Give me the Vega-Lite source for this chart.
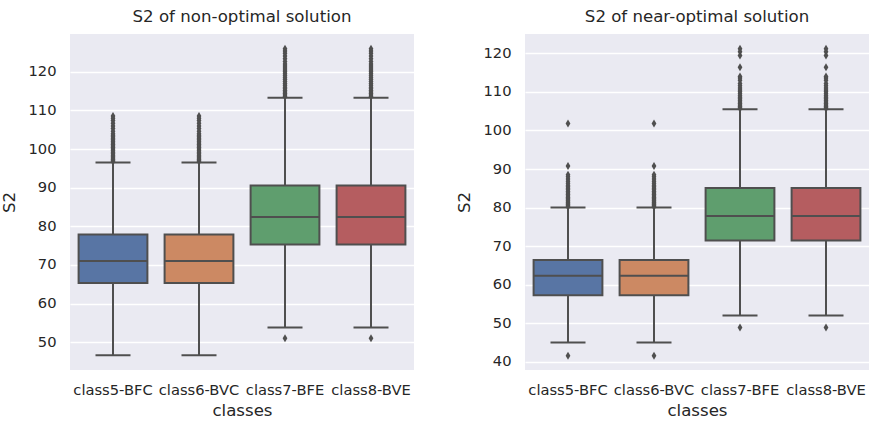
{
  "$schema": "https://vega.github.io/schema/vega-lite/v6.json",
  "background": "white",
  "padding": {"left": 1, "top": 9, "right": 2, "bottom": 0},
  "spacing": 42,
  "datasets": {
    "statsL": [
      {"cls": "class5-BFC", "lo": 46.6, "q1": 65.3, "med": 71.0, "q3": 77.9, "hi": 96.5},
      {"cls": "class6-BVC", "lo": 46.6, "q1": 65.3, "med": 71.0, "q3": 77.9, "hi": 96.5},
      {"cls": "class7-BFE", "lo": 53.8, "q1": 75.3, "med": 82.4, "q3": 90.6, "hi": 113.3},
      {"cls": "class8-BVE", "lo": 53.8, "q1": 75.3, "med": 82.4, "q3": 90.6, "hi": 113.3}
    ],
    "outL": [
      {"cls": "class5-BFC", "v": 96.8}, {"cls": "class5-BFC", "v": 97.1}, {"cls": "class5-BFC", "v": 97.4}, {"cls": "class5-BFC", "v": 97.7}, {"cls": "class5-BFC", "v": 98.0}, {"cls": "class5-BFC", "v": 98.4}, {"cls": "class5-BFC", "v": 98.8}, {"cls": "class5-BFC", "v": 99.2}, {"cls": "class5-BFC", "v": 99.6}, {"cls": "class5-BFC", "v": 100.0}, {"cls": "class5-BFC", "v": 100.4}, {"cls": "class5-BFC", "v": 100.8}, {"cls": "class5-BFC", "v": 101.2}, {"cls": "class5-BFC", "v": 101.6}, {"cls": "class5-BFC", "v": 102.0}, {"cls": "class5-BFC", "v": 102.4}, {"cls": "class5-BFC", "v": 102.8}, {"cls": "class5-BFC", "v": 103.2}, {"cls": "class5-BFC", "v": 103.6}, {"cls": "class5-BFC", "v": 104.0}, {"cls": "class5-BFC", "v": 104.6}, {"cls": "class5-BFC", "v": 105.3}, {"cls": "class5-BFC", "v": 106.0}, {"cls": "class5-BFC", "v": 106.7}, {"cls": "class5-BFC", "v": 107.4}, {"cls": "class5-BFC", "v": 108.0}, {"cls": "class5-BFC", "v": 108.6},
      {"cls": "class6-BVC", "v": 96.8}, {"cls": "class6-BVC", "v": 97.1}, {"cls": "class6-BVC", "v": 97.4}, {"cls": "class6-BVC", "v": 97.7}, {"cls": "class6-BVC", "v": 98.0}, {"cls": "class6-BVC", "v": 98.4}, {"cls": "class6-BVC", "v": 98.8}, {"cls": "class6-BVC", "v": 99.2}, {"cls": "class6-BVC", "v": 99.6}, {"cls": "class6-BVC", "v": 100.0}, {"cls": "class6-BVC", "v": 100.4}, {"cls": "class6-BVC", "v": 100.8}, {"cls": "class6-BVC", "v": 101.2}, {"cls": "class6-BVC", "v": 101.6}, {"cls": "class6-BVC", "v": 102.0}, {"cls": "class6-BVC", "v": 102.4}, {"cls": "class6-BVC", "v": 102.8}, {"cls": "class6-BVC", "v": 103.2}, {"cls": "class6-BVC", "v": 103.6}, {"cls": "class6-BVC", "v": 104.0}, {"cls": "class6-BVC", "v": 104.6}, {"cls": "class6-BVC", "v": 105.3}, {"cls": "class6-BVC", "v": 106.0}, {"cls": "class6-BVC", "v": 106.7}, {"cls": "class6-BVC", "v": 107.4}, {"cls": "class6-BVC", "v": 108.0}, {"cls": "class6-BVC", "v": 108.6},
      {"cls": "class7-BFE", "v": 51.0}, {"cls": "class7-BFE", "v": 113.6}, {"cls": "class7-BFE", "v": 114.0}, {"cls": "class7-BFE", "v": 114.4}, {"cls": "class7-BFE", "v": 114.8}, {"cls": "class7-BFE", "v": 115.2}, {"cls": "class7-BFE", "v": 115.6}, {"cls": "class7-BFE", "v": 116.0}, {"cls": "class7-BFE", "v": 116.5}, {"cls": "class7-BFE", "v": 117.0}, {"cls": "class7-BFE", "v": 117.5}, {"cls": "class7-BFE", "v": 118.0}, {"cls": "class7-BFE", "v": 118.5}, {"cls": "class7-BFE", "v": 119.0}, {"cls": "class7-BFE", "v": 119.5}, {"cls": "class7-BFE", "v": 120.0}, {"cls": "class7-BFE", "v": 120.5}, {"cls": "class7-BFE", "v": 121.0}, {"cls": "class7-BFE", "v": 121.5}, {"cls": "class7-BFE", "v": 122.0}, {"cls": "class7-BFE", "v": 122.7}, {"cls": "class7-BFE", "v": 123.4}, {"cls": "class7-BFE", "v": 124.1}, {"cls": "class7-BFE", "v": 124.8}, {"cls": "class7-BFE", "v": 125.4}, {"cls": "class7-BFE", "v": 126.0},
      {"cls": "class8-BVE", "v": 51.0}, {"cls": "class8-BVE", "v": 113.6}, {"cls": "class8-BVE", "v": 114.0}, {"cls": "class8-BVE", "v": 114.4}, {"cls": "class8-BVE", "v": 114.8}, {"cls": "class8-BVE", "v": 115.2}, {"cls": "class8-BVE", "v": 115.6}, {"cls": "class8-BVE", "v": 116.0}, {"cls": "class8-BVE", "v": 116.5}, {"cls": "class8-BVE", "v": 117.0}, {"cls": "class8-BVE", "v": 117.5}, {"cls": "class8-BVE", "v": 118.0}, {"cls": "class8-BVE", "v": 118.5}, {"cls": "class8-BVE", "v": 119.0}, {"cls": "class8-BVE", "v": 119.5}, {"cls": "class8-BVE", "v": 120.0}, {"cls": "class8-BVE", "v": 120.5}, {"cls": "class8-BVE", "v": 121.0}, {"cls": "class8-BVE", "v": 121.5}, {"cls": "class8-BVE", "v": 122.0}, {"cls": "class8-BVE", "v": 122.7}, {"cls": "class8-BVE", "v": 123.4}, {"cls": "class8-BVE", "v": 124.1}, {"cls": "class8-BVE", "v": 124.8}, {"cls": "class8-BVE", "v": 125.4}, {"cls": "class8-BVE", "v": 126.0}
    ],
    "statsR": [
      {"cls": "class5-BFC", "lo": 45.0, "q1": 57.3, "med": 62.3, "q3": 66.4, "hi": 80.0},
      {"cls": "class6-BVC", "lo": 45.0, "q1": 57.3, "med": 62.3, "q3": 66.4, "hi": 80.0},
      {"cls": "class7-BFE", "lo": 52.0, "q1": 71.5, "med": 77.8, "q3": 85.1, "hi": 105.5},
      {"cls": "class8-BVE", "lo": 52.0, "q1": 71.5, "med": 77.8, "q3": 85.1, "hi": 105.5}
    ],
    "outR": [
      {"cls": "class5-BFC", "v": 41.6}, {"cls": "class5-BFC", "v": 80.2}, {"cls": "class5-BFC", "v": 80.5}, {"cls": "class5-BFC", "v": 80.8}, {"cls": "class5-BFC", "v": 81.1}, {"cls": "class5-BFC", "v": 81.4}, {"cls": "class5-BFC", "v": 81.7}, {"cls": "class5-BFC", "v": 82.0}, {"cls": "class5-BFC", "v": 82.3}, {"cls": "class5-BFC", "v": 82.6}, {"cls": "class5-BFC", "v": 83.0}, {"cls": "class5-BFC", "v": 83.4}, {"cls": "class5-BFC", "v": 83.8}, {"cls": "class5-BFC", "v": 84.2}, {"cls": "class5-BFC", "v": 84.6}, {"cls": "class5-BFC", "v": 85.0}, {"cls": "class5-BFC", "v": 85.4}, {"cls": "class5-BFC", "v": 85.8}, {"cls": "class5-BFC", "v": 86.3}, {"cls": "class5-BFC", "v": 86.8}, {"cls": "class5-BFC", "v": 87.4}, {"cls": "class5-BFC", "v": 88.0}, {"cls": "class5-BFC", "v": 88.5}, {"cls": "class5-BFC", "v": 90.8}, {"cls": "class5-BFC", "v": 101.8},
      {"cls": "class6-BVC", "v": 41.6}, {"cls": "class6-BVC", "v": 80.2}, {"cls": "class6-BVC", "v": 80.5}, {"cls": "class6-BVC", "v": 80.8}, {"cls": "class6-BVC", "v": 81.1}, {"cls": "class6-BVC", "v": 81.4}, {"cls": "class6-BVC", "v": 81.7}, {"cls": "class6-BVC", "v": 82.0}, {"cls": "class6-BVC", "v": 82.3}, {"cls": "class6-BVC", "v": 82.6}, {"cls": "class6-BVC", "v": 83.0}, {"cls": "class6-BVC", "v": 83.4}, {"cls": "class6-BVC", "v": 83.8}, {"cls": "class6-BVC", "v": 84.2}, {"cls": "class6-BVC", "v": 84.6}, {"cls": "class6-BVC", "v": 85.0}, {"cls": "class6-BVC", "v": 85.4}, {"cls": "class6-BVC", "v": 85.8}, {"cls": "class6-BVC", "v": 86.3}, {"cls": "class6-BVC", "v": 86.8}, {"cls": "class6-BVC", "v": 87.4}, {"cls": "class6-BVC", "v": 88.0}, {"cls": "class6-BVC", "v": 88.5}, {"cls": "class6-BVC", "v": 90.8}, {"cls": "class6-BVC", "v": 101.8},
      {"cls": "class7-BFE", "v": 48.9}, {"cls": "class7-BFE", "v": 105.7}, {"cls": "class7-BFE", "v": 106.0}, {"cls": "class7-BFE", "v": 106.3}, {"cls": "class7-BFE", "v": 106.6}, {"cls": "class7-BFE", "v": 107.0}, {"cls": "class7-BFE", "v": 107.4}, {"cls": "class7-BFE", "v": 107.8}, {"cls": "class7-BFE", "v": 108.2}, {"cls": "class7-BFE", "v": 108.6}, {"cls": "class7-BFE", "v": 109.0}, {"cls": "class7-BFE", "v": 109.5}, {"cls": "class7-BFE", "v": 110.0}, {"cls": "class7-BFE", "v": 110.5}, {"cls": "class7-BFE", "v": 111.0}, {"cls": "class7-BFE", "v": 111.6}, {"cls": "class7-BFE", "v": 112.2}, {"cls": "class7-BFE", "v": 113.0}, {"cls": "class7-BFE", "v": 113.6}, {"cls": "class7-BFE", "v": 114.0}, {"cls": "class7-BFE", "v": 116.4}, {"cls": "class7-BFE", "v": 119.4}, {"cls": "class7-BFE", "v": 120.4}, {"cls": "class7-BFE", "v": 121.2},
      {"cls": "class8-BVE", "v": 48.9}, {"cls": "class8-BVE", "v": 105.7}, {"cls": "class8-BVE", "v": 106.0}, {"cls": "class8-BVE", "v": 106.3}, {"cls": "class8-BVE", "v": 106.6}, {"cls": "class8-BVE", "v": 107.0}, {"cls": "class8-BVE", "v": 107.4}, {"cls": "class8-BVE", "v": 107.8}, {"cls": "class8-BVE", "v": 108.2}, {"cls": "class8-BVE", "v": 108.6}, {"cls": "class8-BVE", "v": 109.0}, {"cls": "class8-BVE", "v": 109.5}, {"cls": "class8-BVE", "v": 110.0}, {"cls": "class8-BVE", "v": 110.5}, {"cls": "class8-BVE", "v": 111.0}, {"cls": "class8-BVE", "v": 111.6}, {"cls": "class8-BVE", "v": 112.2}, {"cls": "class8-BVE", "v": 113.0}, {"cls": "class8-BVE", "v": 113.6}, {"cls": "class8-BVE", "v": 114.0}, {"cls": "class8-BVE", "v": 116.4}, {"cls": "class8-BVE", "v": 119.4}, {"cls": "class8-BVE", "v": 120.4}, {"cls": "class8-BVE", "v": 121.2}
    ]
  },
  "hconcat": [
    {
      "title": "S2 of non-optimal solution",
      "width": 344,
      "height": 336,
      "encoding": {
        "x": {"field": "cls", "type": "nominal", "sort": null, "title": "classes", "scale": {"paddingInner": 0.2, "paddingOuter": 0.1}, "axis": {"labelAngle": 0, "grid": false}}
      },
      "layer": [
        {"data": {"name": "statsL"}, "mark": {"type": "rule", "color": "#4f4f4f", "strokeWidth": 2},
         "encoding": {"y": {"field": "lo", "type": "quantitative", "title": "S2", "scale": {"domain": [42.8, 129.8], "nice": false, "zero": false}, "axis": {"values": [50, 60, 70, 80, 90, 100, 110, 120]}}, "y2": {"field": "hi"}}},
        {"data": {"name": "statsL"}, "mark": {"type": "bar", "stroke": "#4f4f4f", "strokeWidth": 2, "opacity": 1},
         "encoding": {"y": {"field": "q1", "type": "quantitative"}, "y2": {"field": "q3"}, "color": {"field": "cls", "type": "nominal", "sort": null, "scale": {"range": ["#5875a4", "#cc8963", "#5f9e6e", "#b55d60"]}, "legend": null}}},
        {"data": {"name": "statsL"}, "mark": {"type": "tick", "color": "#4f4f4f", "thickness": 2, "size": 69, "opacity": 1},
         "encoding": {"y": {"field": "med", "type": "quantitative"}}},
        {"data": {"name": "statsL"}, "mark": {"type": "tick", "color": "#4f4f4f", "thickness": 2, "size": 35, "opacity": 1},
         "encoding": {"y": {"field": "lo", "type": "quantitative"}}},
        {"data": {"name": "statsL"}, "mark": {"type": "tick", "color": "#4f4f4f", "thickness": 2, "size": 35, "opacity": 1},
         "encoding": {"y": {"field": "hi", "type": "quantitative"}}},
        {"data": {"name": "outL"}, "mark": {"type": "point", "shape": "M0,-1L0.6,0L0,1L-0.6,0Z", "filled": true, "color": "#4f4f4f", "size": 64, "opacity": 1},
         "encoding": {"y": {"field": "v", "type": "quantitative"}}}
      ]
    },
    {
      "title": "S2 of near-optimal solution",
      "width": 344,
      "height": 336,
      "encoding": {
        "x": {"field": "cls", "type": "nominal", "sort": null, "title": "classes", "scale": {"paddingInner": 0.2, "paddingOuter": 0.1}, "axis": {"labelAngle": 0, "grid": false}}
      },
      "layer": [
        {"data": {"name": "statsR"}, "mark": {"type": "rule", "color": "#4f4f4f", "strokeWidth": 2},
         "encoding": {"y": {"field": "lo", "type": "quantitative", "title": "S2", "scale": {"domain": [37.9, 125.0], "nice": false, "zero": false}, "axis": {"values": [40, 50, 60, 70, 80, 90, 100, 110, 120]}}, "y2": {"field": "hi"}}},
        {"data": {"name": "statsR"}, "mark": {"type": "bar", "stroke": "#4f4f4f", "strokeWidth": 2, "opacity": 1},
         "encoding": {"y": {"field": "q1", "type": "quantitative"}, "y2": {"field": "q3"}, "color": {"field": "cls", "type": "nominal", "sort": null, "legend": null}}},
        {"data": {"name": "statsR"}, "mark": {"type": "tick", "color": "#4f4f4f", "thickness": 2, "size": 69, "opacity": 1},
         "encoding": {"y": {"field": "med", "type": "quantitative"}}},
        {"data": {"name": "statsR"}, "mark": {"type": "tick", "color": "#4f4f4f", "thickness": 2, "size": 35, "opacity": 1},
         "encoding": {"y": {"field": "lo", "type": "quantitative"}}},
        {"data": {"name": "statsR"}, "mark": {"type": "tick", "color": "#4f4f4f", "thickness": 2, "size": 35, "opacity": 1},
         "encoding": {"y": {"field": "hi", "type": "quantitative"}}},
        {"data": {"name": "outR"}, "mark": {"type": "point", "shape": "M0,-1L0.6,0L0,1L-0.6,0Z", "filled": true, "color": "#4f4f4f", "size": 64, "opacity": 1},
         "encoding": {"y": {"field": "v", "type": "quantitative"}}}
      ]
    }
  ],
  "config": {
    "view": {"fill": "#eaeaf2", "stroke": null},
    "font": "DejaVu Sans",
    "axis": {
      "domain": false, "ticks": false, "gridColor": "white", "gridWidth": 1.3, "gridOpacity": 1,
      "labelFont": "DejaVu Sans", "labelFontSize": 14.7, "labelColor": "#262626", "labelPadding": 14,
      "titleFont": "DejaVu Sans", "titleFontSize": 16.6, "titleFontWeight": "normal", "titleColor": "#262626"
    },
    "axisY": {"titlePadding": 10},
    "axisX": {"labelPadding": 12, "titlePadding": 6},
    "title": {"font": "DejaVu Sans", "fontSize": 16.6, "fontWeight": "normal", "color": "#262626", "offset": 8}
  }
}
